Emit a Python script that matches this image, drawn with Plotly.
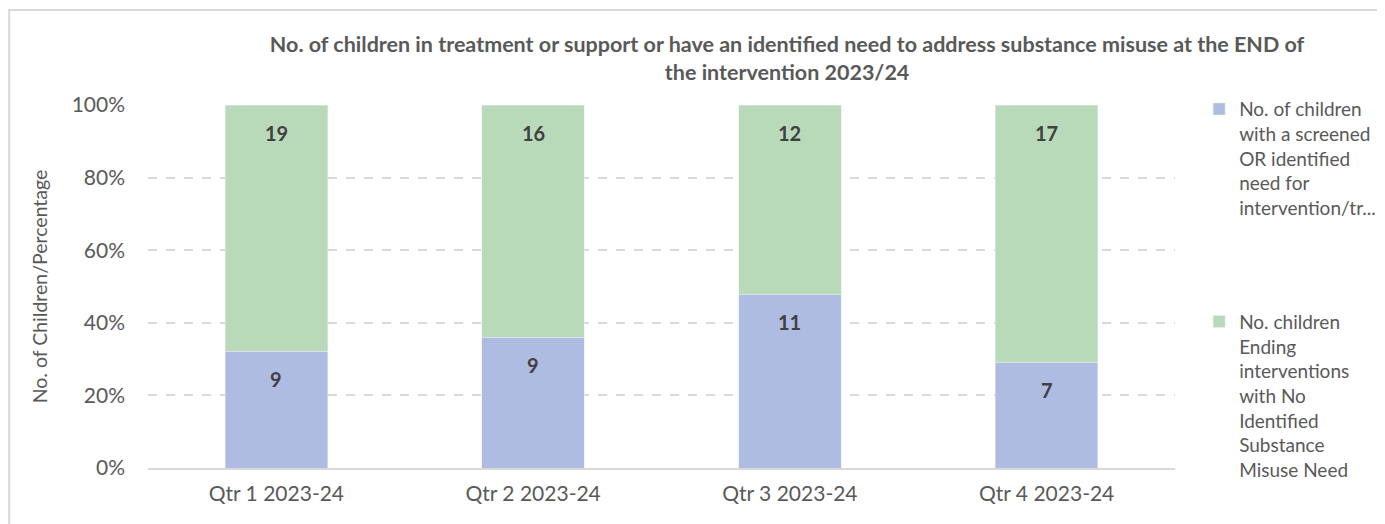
import plotly.graph_objects as go

categories = ["Qtr 1 2023-24", "Qtr 2 2023-24", "Qtr 3 2023-24", "Qtr 4 2023-24"]
screened_need = [9, 9, 11, 7]
no_need = [19, 16, 12, 17]
series_names = [
    "No. of children<br>with a screened<br>OR identified<br>need for<br>intervention/tr...",
    "No. children<br>Ending<br>interventions<br>with No<br>Identified<br>Substance<br>Misuse Need",
]
y_ticks = [0, 20, 40, 60, 80, 100]
y_tick_labels = ["0%", "20%", "40%", "60%", "80%", "100%"]
title_text = ("No. of children in treatment or support or have an identified need to address substance misuse at the END of"
              "<br>the intervention 2023/24")

FONT = "Lato"
GREY = "#595959"
LABEL = "#404040"

fig = go.Figure()
fig.add_trace(go.Bar(x=categories, y=screened_need, name=series_names[0],
                     marker_color="#AEBCE1", legendgroup="a"))
fig.add_trace(go.Bar(x=categories, y=no_need, name=series_names[1],
                     marker_color="#B9DAB9", legendgroup="b"))

# data labels placed near the top of each (percent-normalised) segment
for cat, a, b in zip(categories, screened_need, no_need):
    total = a + b
    for val, top in ((a, 100.0 * a / total), (b, 100.0)):
        fig.add_annotation(x=cat, y=top, text=f"<b>{val}</b>", showarrow=False,
                           yanchor="middle", yshift=-28,
                           font=dict(family=FONT, size=20, color=LABEL))

fig.update_layout(
    barmode="stack", barnorm="percent", bargap=0.6,
    width=1385, height=524,
    margin=dict(l=140, r=218, t=97, b=64, autoexpand=False),
    paper_bgcolor="white", plot_bgcolor="white",
    font=dict(family=FONT, color=GREY, size=20),
    title=dict(text=title_text, x=0.5625, xanchor="center", xref="container",
               y=0.916, yanchor="top", yref="container",
               font=dict(family=FONT, size=21.5, color=GREY, weight="bold")),
    legend=dict(x=1.0235, xanchor="left", y=1.041, yanchor="top", traceorder="grouped",
                tracegroupgap=86, valign="top", font=dict(family=FONT, size=19, color=GREY),
                itemwidth=30),
)
try:
    fig.update_layout(legend_maxheight=1.0)
except Exception:
    pass

fig.update_yaxes(range=[0, 100], tickvals=y_ticks, ticktext=y_tick_labels,
                 showgrid=True, gridcolor="#D9D9D9", griddash="dash", gridwidth=2,
                 zeroline=False, showline=False, ticks="", ticklabelstandoff=22,
                 tickfont=dict(family=FONT, size=21, color=GREY),
                 title=dict(text="No. of Children/Percentage",
                            font=dict(family=FONT, size=19.5, color=GREY), standoff=18))
fig.update_xaxes(showline=True, linecolor="#D9D9D9", linewidth=2, ticks="",
                 ticklabelstandoff=6,
                 tickfont=dict(family=FONT, size=21, color=GREY))

fig.add_shape(type="rect", xref="paper", yref="paper",
              x0=(1 - 140) / 1028, x1=1.3, y0=-0.3, y1=(460 - 2) / 363,
              line=dict(color="#D9D9D9", width=2), fillcolor="rgba(0,0,0,0)", layer="below")

fig.write_html("out.html")
